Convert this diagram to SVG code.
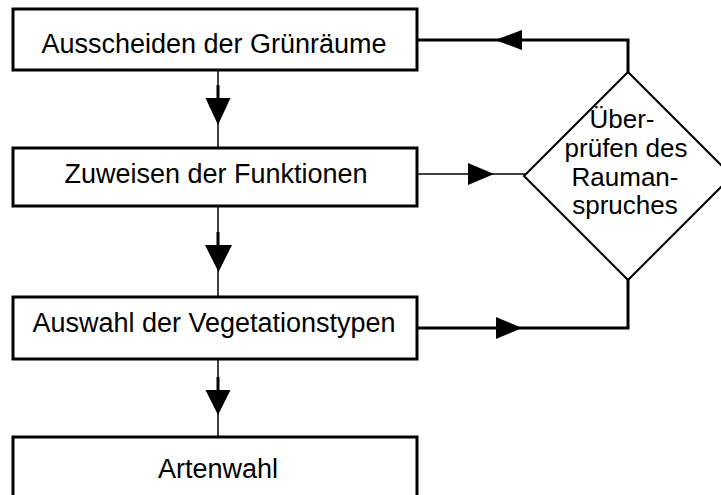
<svg xmlns="http://www.w3.org/2000/svg" width="721" height="495" viewBox="0 0 721 495">
<style>
.box{fill:#fff;stroke:#000;stroke-width:3}
.dia{fill:#fff;stroke:#000;stroke-width:2}
.t{font-family:"Liberation Sans",Arial,sans-serif;font-size:27px;fill:#000;text-anchor:middle}
.td{font-family:"Liberation Sans",Arial,sans-serif;font-size:26px;fill:#000;text-anchor:middle}
.thin{fill:none;stroke:#000;stroke-width:1.5}
.thick{fill:none;stroke:#000;stroke-width:3}
.head{fill:#000;stroke:none}
</style>
<rect width="721" height="495" fill="#fff"/>
<g id="connectors">
  <line class="thin" x1="218" y1="70" x2="218" y2="148"/>
  <line class="thick" x1="218" y1="85" x2="218" y2="99"/>
  <polygon class="head" points="205.5,98 230.5,98 218,125"/>
  <line class="thin" x1="218" y1="206" x2="218" y2="296"/>
  <line class="thick" x1="218" y1="232" x2="218" y2="246"/>
  <polygon class="head" points="205,245 232,245 218.5,272"/>
  <line class="thin" x1="218" y1="359" x2="218" y2="437"/>
  <line class="thick" x1="218" y1="377" x2="218" y2="391"/>
  <polygon class="head" points="205.5,390 230.5,390 218,415"/>
  <line class="thin" x1="418" y1="174" x2="525" y2="174"/>
  <polygon class="head" points="468,163 468,185 494,174"/>
  <polyline class="thick" points="418,328 628,328 628,280"/>
  <polygon class="head" points="496,317 496,339 522,328"/>
  <polyline class="thick" points="628,72 628,40 418,40"/>
  <polygon class="head" points="522,30 522,50 495,40"/>
</g>
<g id="n1">
  <rect class="box" x="13" y="9" width="404" height="61"/>
  <text class="t" x="214" y="53">Ausscheiden der Grünräume</text>
</g>
<g id="n2">
  <rect class="box" x="13" y="148" width="404" height="58"/>
  <text class="t" x="216" y="183">Zuweisen der Funktionen</text>
</g>
<g id="n3">
  <rect class="box" x="13" y="297" width="404" height="62"/>
  <text class="t" x="214" y="332">Auswahl der Vegetationstypen</text>
</g>
<g id="n4">
  <rect class="box" x="13" y="437" width="404" height="80"/>
  <text class="t" x="218" y="478">Artenwahl</text>
</g>
<g id="d1">
  <polygon class="dia" points="628,72 732,176 628,280 524,176"/>
  <text class="td" x="622" y="128">Über-</text>
  <text class="td" x="626" y="157">prüfen des</text>
  <text class="td" x="625" y="186">Rauman-</text>
  <text class="td" x="625" y="214">spruches</text>
</g>
</svg>
